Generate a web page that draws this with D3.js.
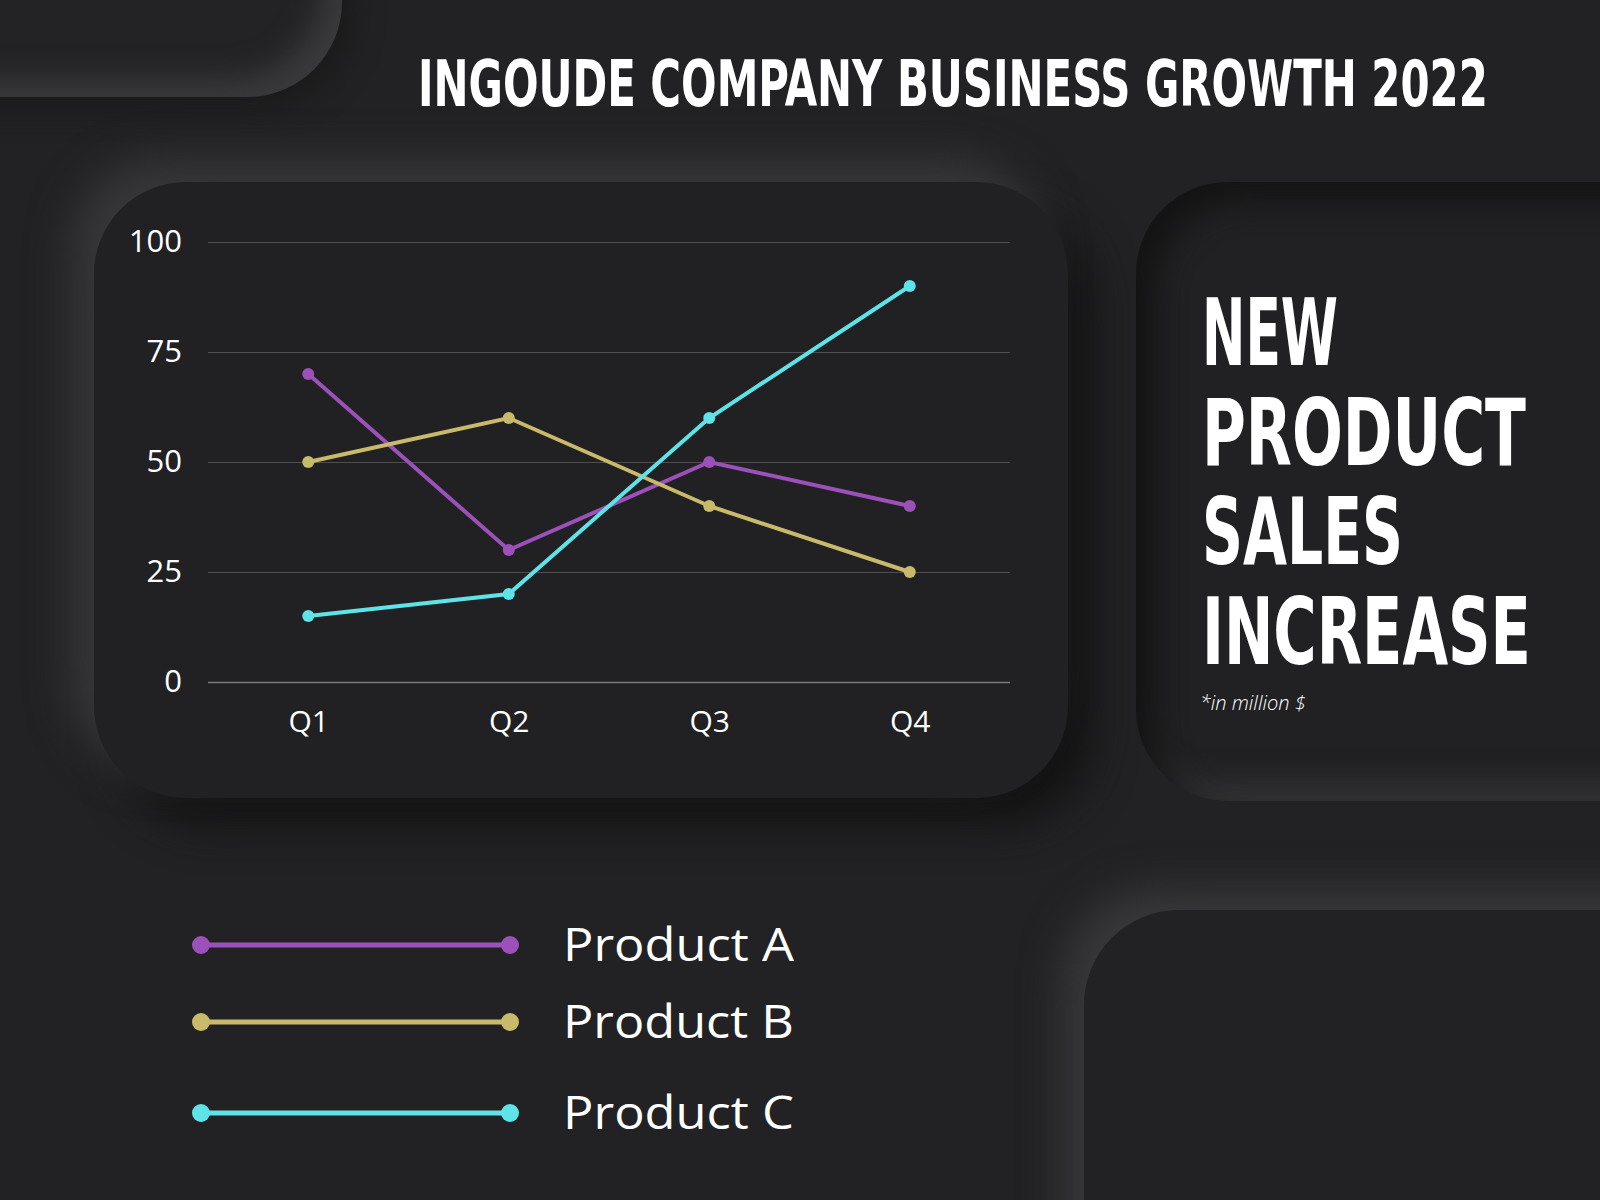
<!DOCTYPE html>
<html>
<head>
<meta charset="utf-8">
<script src="https://cdn.jsdelivr.net/npm/d3@7"></script>
<style>
    html, body { margin: 0; padding: 0; background: #222224; overflow: hidden; }
    #page { position: relative; width: 1600px; height: 1200px; background: #222224; overflow: hidden; }
    .card { position: absolute; }
    #chart-area { position: absolute; left: 0; top: 0; width: 1600px; height: 1200px; }
</style>
</head>
<body>
<div id="page">
    <div id="chart-area"></div>
</div>
<script>
// chart values
const quarters = ["Q1", "Q2", "Q3", "Q4"];
const productA = [70, 30, 50, 40];
const productB = [50, 60, 40, 25];
const productC = [15, 20, 60, 90];
const yTicks = [0, 25, 50, 75, 100];
const seriesNames = ["Product A", "Product B", "Product C"];
const titleText = "INGOUDE COMPANY BUSINESS GROWTH 2022";
const headlineLines = ["NEW", "PRODUCT", "SALES", "INCREASE"];
const noteText = "*in million $";

const lineColors = ["#9b51b9", "#c9b96b", "#5ee3e8"];

// squeeze a text horizontally to a target width (condensed look)
function fitWidth(sel, x, y, target) {
    sel.each(function(d, i) {
        let t = d3.select(this);
        let w = this.getComputedTextLength();
        let tx = typeof x === "function" ? x(d, i) : x;
        let ty = typeof y === "function" ? y(d, i) : y;
        let tw = typeof target === "function" ? target(d, i) : target;
        t.attr("transform", `translate(${tx}, ${ty}) scale(${tw / w}, 1)`);
    });
}

class GrowthLineVis {

    constructor(parentElement) {
        this.parentElement = parentElement;
        this.series = [productA, productB, productC].map((vals, i) => ({
            name: seriesNames[i],
            color: lineColors[i],
            values: vals.map((v, j) => ({q: quarters[j], v: v}))
        }));
        this.initVis();
    }

    initVis() {
        let vis = this;

        // neumorphic cards, drawn as divs under the svg (css shadows blur smoothly)
        let cards = [
            {x: -200, y: -200, w: 542, h: 297, r: 95, bg: "#232325",
                shadow: "inset -18px -18px 30px #3a3a3c, 10px 10px 30px #1a1a1b"},
            {x: 1136, y: 182, w: 700, h: 619, r: 92, bg: "#212123",
                shadow: "inset 18px 18px 30px #141415, inset -16px -16px 30px #363638"},
            {x: 1084, y: 910, w: 700, h: 500, r: 95, bg: "#222224",
                shadow: "-22px -22px 40px #38383a, 22px 22px 40px #141415"},
            {x: 94, y: 182, w: 974, h: 616, r: 92, bg: "#212123",
                shadow: "-24px -24px 42px #37373a, 24px 26px 44px #131314"}
        ];
        d3.select("#page").selectAll(".card")
            .data(cards)
            .enter().insert("div", "#chart-area")
            .attr("class", "card")
            .style("left", d => d.x + "px")
            .style("top", d => d.y + "px")
            .style("width", d => d.w + "px")
            .style("height", d => d.h + "px")
            .style("border-radius", d => d.r + "px")
            .style("background", d => d.bg)
            .style("box-shadow", d => d.shadow);

        vis.svg = d3.select("#" + vis.parentElement).append("svg")
            .attr("width", 1600)
            .attr("height", 1200);

        // title
        vis.svg.append("text")
            .style("font-family", "'DejaVu Sans Condensed', 'Liberation Sans Narrow', sans-serif")
            .style("font-weight", "bold")
            .style("font-size", "64px")
            .attr("fill", "#ffffff")
            .text(titleText)
            .call(fitWidth, 418, 106, 1070);

        // headline on right card
        let headWidths = [136, 324, 201, 329];
        let headBase = [365, 465, 564, 664];
        vis.svg.selectAll(".headline")
            .data(headlineLines)
            .enter().append("text")
            .attr("class", "headline")
            .style("font-family", "'DejaVu Sans Condensed', 'Liberation Sans Narrow', sans-serif")
            .style("font-weight", "bold")
            .style("font-size", "92px")
            .attr("fill", "#ffffff")
            .text(d => d)
            .call(fitWidth, 1202, (d, i) => headBase[i], (d, i) => headWidths[i]);

        vis.svg.append("text")
            .attr("x", 1200).attr("y", 710)
            .style("font-family", "'Open Sans', sans-serif")
            .style("font-style", "italic")
            .style("font-weight", 300)
            .style("font-size", "20px")
            .attr("fill", "#ffffff")
            .text(noteText);

        // chart area
        vis.margin = {top: 242, left: 208};
        vis.width = 802;
        vis.height = 440;

        vis.chart = vis.svg.append("g")
            .attr("transform", `translate(${vis.margin.left}, ${vis.margin.top})`);

        vis.x = d3.scalePoint()
            .domain(quarters)
            .range([0, vis.width])
            .padding(0.5);

        vis.y = d3.scaleLinear()
            .domain([0, 100])
            .range([vis.height, 0]);

        vis.yAxis = d3.axisLeft(vis.y)
            .tickValues(yTicks)
            .tickSize(-vis.width)
            .tickPadding(26);

        vis.xAxis = d3.axisBottom(vis.x)
            .tickSize(0)
            .tickPadding(29);

        vis.yAxisG = vis.chart.append("g").attr("class", "y-axis").call(vis.yAxis);
        vis.yAxisG.select(".domain").remove();
        vis.yAxisG.selectAll("line")
            .attr("stroke", d => d === 0 ? "#7a7a7c" : "#4e4e50")
            .attr("stroke-width", d => d === 0 ? 1.5 : 1);
        vis.yAxisG.selectAll("text")
            .attr("fill", "#ffffff")
            .style("font-family", "'Open Sans', sans-serif")
            .style("font-weight", 400)
            .style("font-size", "31px");

        vis.xAxisG = vis.chart.append("g").attr("class", "x-axis")
            .attr("transform", `translate(0, ${vis.height})`)
            .call(vis.xAxis);
        vis.xAxisG.select(".domain").remove();
        vis.xAxisG.selectAll("text")
            .attr("fill", "#ffffff")
            .style("font-family", "'Open Sans', sans-serif")
            .style("font-weight", 400)
            .style("font-size", "30px");

        this.updateVis();
    }

    updateVis() {
        let vis = this;

        let line = d3.line()
            .x(d => vis.x(d.q))
            .y(d => vis.y(d.v));

        let groups = vis.chart.selectAll(".series")
            .data(vis.series)
            .enter().append("g")
            .attr("class", "series");

        groups.append("path")
            .attr("d", d => line(d.values))
            .attr("fill", "none")
            .attr("stroke", d => d.color)
            .attr("stroke-width", 4);

        groups.selectAll("circle")
            .data(d => d.values.map(v => Object.assign({color: d.color}, v)))
            .enter().append("circle")
            .attr("cx", d => vis.x(d.q))
            .attr("cy", d => vis.y(d.v))
            .attr("r", 6)
            .attr("fill", d => d.color);

        // legend
        let legendY = d3.scalePoint()
            .domain(seriesNames)
            .range([945, 1113]);
        let legendOffsets = [0, -7, 0];

        let legend = vis.svg.selectAll(".legend")
            .data(vis.series)
            .enter().append("g")
            .attr("class", "legend")
            .attr("transform", (d, i) => `translate(0, ${legendY(d.name) + legendOffsets[i]})`);

        legend.append("line")
            .attr("x1", 201).attr("x2", 510)
            .attr("stroke", d => d.color)
            .attr("stroke-width", 5);

        legend.append("circle").attr("cx", 201).attr("r", 9).attr("fill", d => d.color);
        legend.append("circle").attr("cx", 510).attr("r", 9).attr("fill", d => d.color);

        legend.append("text")
            .attr("dy", "0.35em")
            .style("font-family", "'Open Sans', sans-serif")
            .style("font-weight", 400)
            .style("font-size", "45px")
            .attr("fill", "#ffffff")
            .text(d => d.name)
            .call(fitWidth, 563, 0, 231);
    }
}

new GrowthLineVis("chart-area");
</script>
</body>
</html>
